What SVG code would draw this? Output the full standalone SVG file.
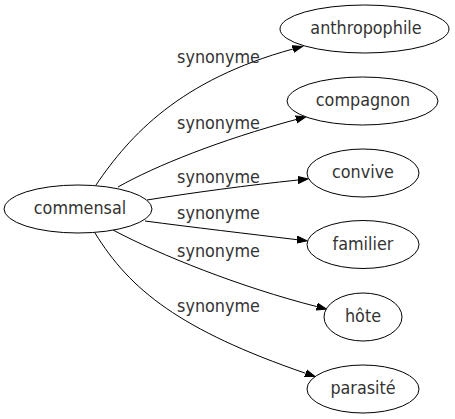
<svg xmlns="http://www.w3.org/2000/svg" width="455" height="419" viewBox="0 0 455 419">
<style>
.node ellipse{fill:#fff;stroke:#000;stroke-width:1}
text{font-family:"DejaVu Sans Condensed","DejaVu Sans","Liberation Sans",sans-serif;font-stretch:condensed;font-size:17.8px;fill:#333;text-anchor:middle}
.edge path{fill:none;stroke:#000;stroke-width:1}
</style>
<defs>
<marker id="arr" markerUnits="userSpaceOnUse" markerWidth="12" markerHeight="10" refX="0" refY="5" orient="auto" viewBox="0 0 12 10">
<polygon points="0,1.5 10,5 0,8.5" fill="#000" stroke="#000"/>
</marker>
</defs>
<rect width="455" height="419" fill="#fff"/>
<g id="edges" class="edge">
<path d="M96,185 C130,135 180,80 292.9,49" marker-end="url(#arr)"/>
<path d="M118,187 C155,166 220,140 296.1,119.5" marker-end="url(#arr)"/>
<path d="M147,200 C190,193 250,185 298,180" marker-end="url(#arr)"/>
<path d="M145,221 C190,227 250,234 297.1,239.7" marker-end="url(#arr)"/>
<path d="M113,230 C160,255 240,287 316.8,306.6" marker-end="url(#arr)"/>
<path d="M95,233 C130,290 180,330 305.6,373.3" marker-end="url(#arr)"/>
<text x="218.5" y="62.7">synonyme</text>
<text x="218.5" y="129.3">synonyme</text>
<text x="218.5" y="183.3">synonyme</text>
<text x="218.5" y="219.3">synonyme</text>
<text x="218.5" y="256.7">synonyme</text>
<text x="218.5" y="311.7">synonyme</text>
</g>
<g id="commensal" class="node"><ellipse cx="78" cy="209" rx="74" ry="24"/><text x="80" y="214">commensal</text></g>
<g id="anthropophile" class="node"><ellipse cx="364.5" cy="29" rx="84.5" ry="24"/><text x="366" y="34">anthropophile</text></g>
<g id="compagnon" class="node"><ellipse cx="362.5" cy="101" rx="75.5" ry="24"/><text x="363" y="106">compagnon</text></g>
<g id="convive" class="node"><ellipse cx="363" cy="173" rx="56" ry="24"/><text x="363" y="178">convive</text></g>
<g id="familier" class="node"><ellipse cx="363" cy="244.5" rx="56" ry="24"/><text x="363" y="249.5">familier</text></g>
<g id="hote" class="node"><ellipse cx="363" cy="317" rx="39" ry="24"/><text x="363" y="322">hôte</text></g>
<g id="parasite" class="node"><ellipse cx="363" cy="389" rx="56" ry="24"/><text x="363" y="394">parasité</text></g>
</svg>
